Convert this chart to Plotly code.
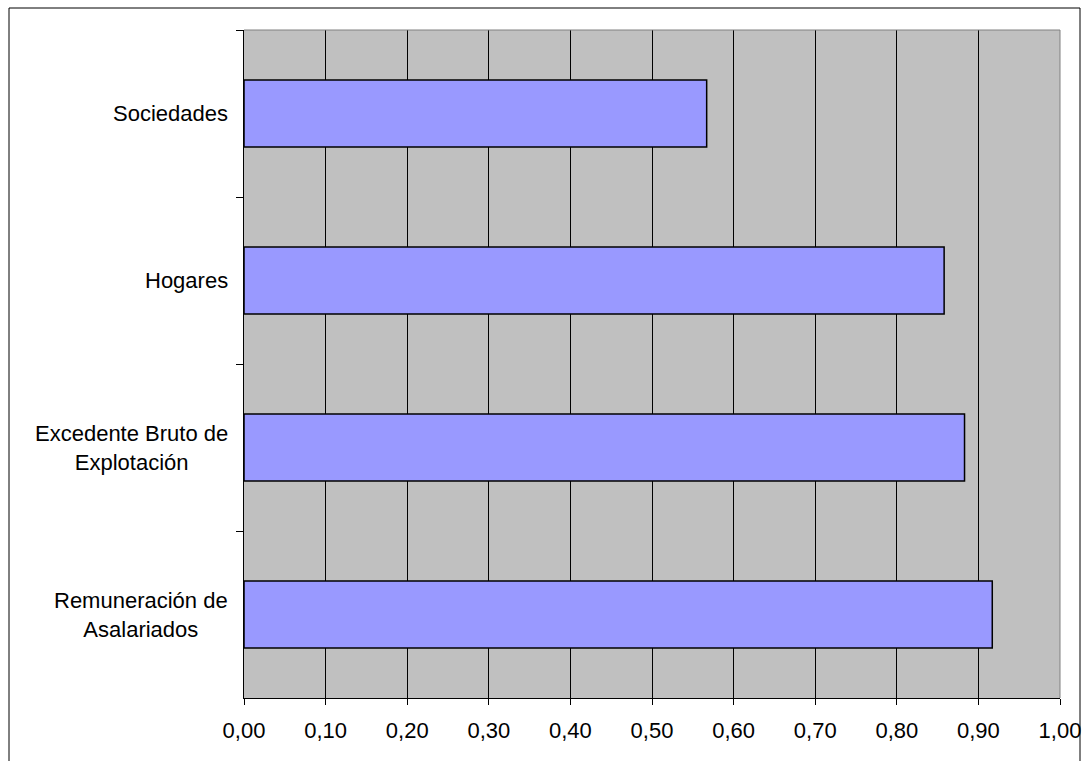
import plotly.graph_objects as go

# Sectors (top to bottom) and their ratios
categories = ["Sociedades", "Hogares", "Excedente Bruto de<br>Explotación", "Remuneración de<br>Asalariados"]
values = [0.567, 0.858, 0.883, 0.917]
x_ticks = [0.0, 0.1, 0.2, 0.3, 0.4, 0.5, 0.6, 0.7, 0.8, 0.9, 1.0]

W, H = 1089, 761
L, R, T, B = 244, 29, 30, 63
FONT = "Liberation Sans, Arial, sans-serif"
FS = 22

fig = go.Figure(
    go.Bar(
        x=values,
        y=categories,
        orientation="h",
        width=0.4,
        marker=dict(color="#9999FF", line=dict(color="#000000", width=1.5)),
        hoverinfo="x+y",
    )
)

fig.update_layout(
    width=W,
    height=H,
    margin=dict(l=L, r=R, t=T, b=B, autoexpand=False),
    paper_bgcolor="#FFFFFF",
    plot_bgcolor="#C0C0C0",
    separators=",.",
    showlegend=False,
    font=dict(family=FONT, size=FS, color="#000000"),
)

fig.update_xaxes(
    range=[0, 1],
    tickvals=x_ticks,
    tickformat=".2f",
    ticks="outside",
    ticklen=6,
    tickcolor="#000000",
    ticklabelstandoff=7,
    automargin=False,
    showline=True,
    linecolor="#000000",
    linewidth=1,
    showgrid=True,
    gridcolor="#000000",
    gridwidth=1,
    zeroline=False,
    tickfont=dict(family=FONT, size=FS),
)

fig.update_yaxes(
    type="category",
    categoryorder="array",
    categoryarray=categories,
    autorange="reversed",
    tickson="boundaries",
    ticks="outside",
    ticklen=7,
    tickcolor="#000000",
    showticklabels=False,
    automargin=False,
    showline=True,
    linecolor="#000000",
    linewidth=1,
    showgrid=False,
    zeroline=False,
)

# Category labels, centred line by line and right-anchored near the axis
for cat in categories:
    fig.add_annotation(
        x=0, xref="paper", y=cat, yref="y",
        text=cat, showarrow=False,
        xanchor="right", yanchor="middle", align="center",
        xshift=-14,
        font=dict(family=FONT, size=FS, color="#000000"),
    )

# Grey top and right edges of the plotting area
fig.add_shape(type="line", xref="paper", yref="paper", x0=0, x1=1, y0=1, y1=1,
              line=dict(color="#808080", width=1))
fig.add_shape(type="line", xref="paper", yref="paper", x0=1, x1=1, y0=0, y1=1,
              line=dict(color="#808080", width=1))

# Outer chart frame
pw, ph = W - L - R, H - T - B
fig.add_shape(
    type="rect", xref="paper", yref="paper",
    x0=(9 - L) / pw, x1=(1080 - L) / pw,
    y0=(H - B - 770) / ph, y1=(H - B - 8) / ph,
    line=dict(color="#000000", width=1), fillcolor="rgba(0,0,0,0)",
)

fig.write_html("out.html")
